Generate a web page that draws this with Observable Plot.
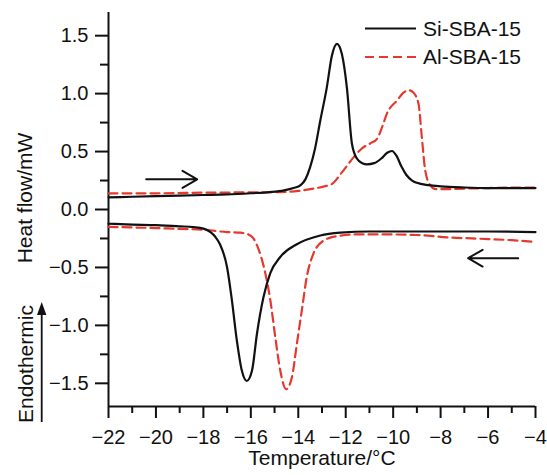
<!DOCTYPE html>
<html><head><meta charset="utf-8">
<script src="https://cdn.jsdelivr.net/npm/d3@7"></script>
<script src="https://cdn.jsdelivr.net/npm/@observablehq/plot@0.6"></script>
<style>body{margin:0;background:#fff}</style>
</head><body><div id="chart"></div>
<script>
// Si-SBA-15, heating run
const siHeatT = [-22,-21,-20,-19,-18,-17,-16,-15.2,-14.6,-14.2,-13.9,-13.7,-13.5,-13.3,-13.07,-12.8,-12.58,-12.37,-12.16,-11.95,-11.74,-11.53,-11.3,-11.1,-10.8,-10.5,-10.25,-10.05,-9.85,-9.65,-9.45,-9.2,-9.0,-8.5,-8.0,-7,-6,-5,-4];
const siHeatQ = [0.105,0.11,0.115,0.12,0.125,0.13,0.14,0.15,0.165,0.185,0.21,0.26,0.365,0.52,0.77,1.05,1.33,1.43,1.34,1.05,0.57,0.44,0.40,0.39,0.40,0.44,0.49,0.505,0.46,0.37,0.30,0.25,0.23,0.21,0.20,0.19,0.185,0.185,0.185];
// Al-SBA-15, heating run
const alHeatT = [-22,-20,-18,-16,-14.76,-14,-13.36,-12.9,-12.58,-12.16,-11.67,-11.3,-10.97,-10.68,-10.45,-10.26,-9.84,-9.55,-9.35,-9.15,-8.93,-8.79,-8.65,-8.44,-8.2,-8.02,-7,-6,-5,-4];
const alHeatQ = [0.14,0.14,0.145,0.148,0.15,0.16,0.18,0.2,0.22,0.32,0.45,0.53,0.57,0.61,0.72,0.83,0.94,1.01,1.03,1.01,0.91,0.62,0.34,0.21,0.175,0.175,0.18,0.185,0.19,0.19];
// Si-SBA-15, cooling run
const siCoolT = [-22,-21,-20,-19,-18.42,-18,-17.7,-17.5,-17.3,-17.0,-16.8,-16.59,-16.38,-16.17,-15.95,-15.74,-15.47,-15.18,-14.76,-14.06,-13.07,-12.23,-11,-10,-8,-6,-4];
const siCoolQ = [-0.123,-0.13,-0.135,-0.145,-0.152,-0.165,-0.195,-0.235,-0.30,-0.50,-0.78,-1.13,-1.39,-1.48,-1.39,-1.07,-0.76,-0.55,-0.41,-0.30,-0.224,-0.20,-0.19,-0.19,-0.19,-0.19,-0.195];
// Al-SBA-15, cooling run
const alCoolT = [-22,-21,-20,-19.1,-18,-17,-16.45,-16.1,-15.89,-15.68,-15.39,-15.18,-14.97,-14.76,-14.51,-14.27,-14.06,-13.85,-13.64,-13.36,-12.94,-12.37,-11.5,-10.5,-9,-7.73,-6,-5,-4];
const alCoolQ = [-0.15,-0.155,-0.16,-0.167,-0.175,-0.195,-0.2,-0.215,-0.25,-0.34,-0.55,-0.78,-1.10,-1.39,-1.55,-1.45,-1.16,-0.87,-0.58,-0.38,-0.27,-0.23,-0.215,-0.215,-0.22,-0.24,-0.255,-0.265,-0.28];

const seriesNames = ["Si-SBA-15", "Al-SBA-15"];
const xMajor = [-22,-20,-18,-16,-14,-12,-10,-8,-6,-4];
const xMinor = [-21,-19,-17,-15,-13,-11,-9,-7,-5];
const yMajor = [-1.5,-1.0,-0.5,0.0,0.5,1.0,1.5];
const yMinor = [-1.25,-0.75,-0.25,0.25,0.75,1.25];
// direction arrows (heating →, cooling ←)
const arrowX1 = [-20.41, -4.73];
const arrowX2 = [-18.26, -6.84];
const arrowY  = [0.26, -0.42];

const red = "#e5392e";
const ink = "#111";
const font = "'Liberation Sans', Arial, Helvetica, sans-serif";

const rows = [];
function add(T, Q, series, run) { T.forEach((t, i) => rows.push({T: t, Q: Q[i], series, run})); }
add(siHeatT, siHeatQ, seriesNames[0], "heat");
add(siCoolT, siCoolQ, seriesNames[0], "cool");
add(alHeatT, alHeatQ, seriesNames[1], "heat");
add(alCoolT, alCoolQ, seriesNames[1], "cool");
const arrows = arrowX1.map((x1, i) => ({x1, x2: arrowX2[i], y: arrowY[i]}));

const chart = Plot.plot({
  width: 547, height: 475,
  marginLeft: 108, marginRight: 12, marginTop: 12, marginBottom: 69,
  style: {fontFamily: font, fontSize: "20px", color: ink, background: "#fff", overflow: "visible"},
  x: {domain: [-22, -4]},
  y: {domain: [-1.7, 1.7]},
  marks: [
    Plot.axisX({ticks: xMajor, tickSize: 12, tickPadding: 11, strokeWidth: 2, label: null, fontSize: 20}),
    Plot.axisX({ticks: xMinor, tickSize: 7, text: null, strokeWidth: 2, label: null}),
    Plot.axisY({ticks: yMajor, tickSize: 13, tickPadding: 7, tickFormat: d3.format(".1f"), strokeWidth: 2, label: null, fontSize: 20}),
    Plot.axisY({ticks: yMinor, tickSize: 8, text: null, strokeWidth: 2, label: null}),
    Plot.ruleX([-22], {strokeWidth: 2, stroke: ink}),
    Plot.ruleY([-1.7], {strokeWidth: 2, stroke: ink}),
    Plot.line(rows.filter(d => d.series === seriesNames[1]), {x: "T", y: "Q", z: "run", stroke: red, strokeWidth: 2.2, strokeDasharray: "9,5", curve: "monotone-x"}),
    Plot.line(rows.filter(d => d.series === seriesNames[0]), {x: "T", y: "Q", z: "run", stroke: ink, strokeWidth: 2.2, curve: "monotone-x"}),
    Plot.arrow(arrows, {x1: "x1", x2: "x2", y1: "y", y2: "y", stroke: ink, strokeWidth: 2, headLength: 14, bend: 0})
  ]
});
document.getElementById("chart").appendChild(chart);

const svg = d3.select(chart);
// legend
const leg = svg.append("g").attr("font-family", font).attr("font-size", 21).attr("fill", ink).attr("text-anchor", "start");
[[seriesNames[0], ink, null, 28.5, 35.5], [seriesNames[1], red, "9,5", 57, 64]].forEach(([name, col, dash, ly, ty]) => {
  leg.append("line").attr("x1", 365).attr("x2", 416).attr("y1", ly).attr("y2", ly)
    .attr("stroke", col).attr("stroke-width", 2.2).attr("stroke-dasharray", dash);
  leg.append("text").attr("x", 423).attr("y", ty).attr("text-anchor", "start").text(name);
});
// axis titles
svg.append("text").attr("x", 322).attr("y", 465).attr("text-anchor", "middle")
  .attr("font-family", font).attr("font-size", 21).attr("fill", ink).text("Temperature/°C");
svg.append("text").attr("transform", "translate(32,198) rotate(-90)").attr("text-anchor", "middle")
  .attr("font-family", font).attr("font-size", 21).attr("fill", ink).text("Heat flow/mW");
svg.append("text").attr("transform", "translate(33,364) rotate(-90)").attr("text-anchor", "middle")
  .attr("font-family", font).attr("font-size", 21).attr("fill", ink).text("Endothermic");
svg.append("line").attr("x1", 41.7).attr("x2", 41.7).attr("y1", 422).attr("y2", 312)
  .attr("stroke", ink).attr("stroke-width", 1.8);
svg.append("path").attr("d", "M41.7,302 L37,315 L46.4,315 Z").attr("fill", ink);
</script>
</body></html>
